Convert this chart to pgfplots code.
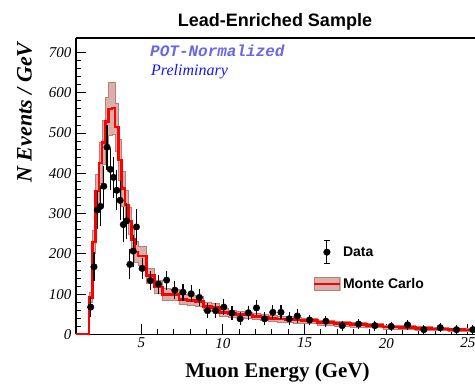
\documentclass[border=0pt]{standalone}
\usepackage{fontspec}
\setmainfont{Liberation Serif}
\newfontfamily\sansf{Liberation Sans}
\newfontfamily\monof{Liberation Mono}
\usepackage{pgfplots}
\pgfplotsset{compat=1.18}
\usepackage{pgfplotstable}
\usepgfplotslibrary{fillbetween}
\definecolor{bandfill}{RGB}{218,176,172}
\definecolor{bandedge}{RGB}{190,124,120}
\definecolor{potblue}{RGB}{104,104,228}
\definecolor{prelblue}{RGB}{20,20,250}

% Monte Carlo: left bin edge, value, band upper, band lower (last row = end of last bin)
\pgfplotstableread{
x v hi lo
1.0 0 0 0
1.8 92 105 79
2.0 230 258 202
2.2 356 398 314
2.4 426 476 376
2.6 477 532 422
2.8 528 589 467
3.0 560 625 495
3.2 562 627 497
3.4 515 575 455
3.6 433 484 382
3.8 362 405 319
4.0 321 359 283
4.2 282 316 248
4.4 236 265 207
4.6 205 231 179
4.8 195 219 171
5.3 146 165 127
5.8 118 134 102
6.3 100 114 86
6.8 99 113 85
7.3 87 100 74
7.8 85 97 73
8.3 82 94 70
8.8 70 81 59
9.3 67 77 57
9.8 55 64 46
10.3 52 61 43
10.8 50 58 42
11.3 48 56 40
11.8 45 53 37
12.3 43 51 35
12.8 40 47 33
13.3 38 45 31
13.8 37 44 30
14.3 36 43 29
14.8 34 41 27
15.8 30 36 24
16.8 27 33 21
17.8 25 31 19
18.8 22 27 17
19.8 19 24 14
20.8 18 23 13
21.8 15 20 10
22.8 14 19 10
23.8 12 16 8
24.8 11 15 7
25.8 11 15 7
}\mc

% Data: bin centre, value, error
\pgfplotstableread{
x y e
1.9 68 18
2.1 168 29
2.3 309 39
2.5 318 40
2.7 368 43
2.9 465 48
3.1 410 45
3.3 390 44
3.5 358 42
3.7 333 41
3.9 273 37
4.1 282 38
4.3 174 30
4.5 207 32
4.7 267 37
5.05 164 18
5.55 134 16
6.05 125 16
6.55 135 16
7.05 110 15
7.55 105 14
8.05 101 14
8.55 92 14
9.05 59 11
9.55 59 11
10.05 68 12
10.55 53 10
11.05 39 9
11.55 54 10
12.05 66 11
12.55 39 9
13.05 55 10
13.55 55 10
14.05 39 9
14.55 46 10
15.3 36 6
16.3 33 6
17.3 22 5
18.3 26 5
19.3 22 5
20.3 20 4
21.3 24 5
22.3 12 4
23.3 17 4
24.3 12 4
25.3 12 4
}\data

\begin{document}
\begin{tikzpicture}
\begin{axis}[
  at={(76pt,50.5pt)}, anchor=south west,
  scale only axis, width=399pt, height=296.5pt,
  xmin=1, xmax=25.43, ymin=0, ymax=736,
  axis x line*=box, axis y line*=left,
  xtick={5,10,15,20,25}, ytick={0,100,200,300,400,500,600,700},
  minor x tick num=4, minor y tick num=4,
  tick align=inside, xtick pos=left, ytick pos=left,
  major tick length=10pt, minor tick length=5pt,
  axis line style={line width=1.2pt, black},
  every tick/.style={black, line width=1pt},
  /pgf/number format/assume math mode=true,
  tick label style={font=\fontsize{15}{18}\selectfont\itshape},
  yticklabel style={xshift=-1pt},
  legend style={at={(0.593,0.319)}, anchor=north west, draw=none, fill=none,
    inner sep=0pt, row sep=12pt,
    font=\sansf\bfseries\fontsize{14}{16}\selectfont,
    nodes={inner sep=2pt}},
  legend cell align=left,
]
\addplot[name path=up, draw=none, const plot mark left, forget plot] table[x=x,y=hi]{\mc};
\addplot[name path=lo, draw=none, const plot mark left, forget plot] table[x=x,y=lo]{\mc};
\addplot[bandfill, forget plot] fill between[of=up and lo];
\addplot[draw=bandedge, line width=0.6pt, const plot mark left, forget plot] table[x=x,y=hi]{\mc};
\addplot[draw=bandedge, line width=0.6pt, const plot mark left, forget plot] table[x=x,y=lo]{\mc};
\addplot[red, line width=2.6pt, const plot mark left, forget plot] table[x=x,y=v]{\mc};
\addplot[only marks, mark=*, mark size=3.3pt, black, forget plot,
  error bars/.cd, y dir=both, y explicit,
  error bar style={line width=1.1pt, black},
  error mark options={black, line width=1.1pt, mark size=3pt}]
  table[x=x,y=y,y error=e]{\data};
\addlegendimage{legend image code/.code={
  \draw[black, line width=1.1pt] (12.8pt,-11.5pt) -- (12.8pt,11.5pt);
  \draw[black, line width=1.1pt] (9.8pt,11.5pt) -- (15.8pt,11.5pt);
  \draw[black, line width=1.1pt] (9.8pt,-11.5pt) -- (15.8pt,-11.5pt);
  \fill[black] (12.8pt,0pt) circle (3.3pt);}}
\addlegendentry{Data}
\addlegendimage{legend image code/.code={
  \fill[bandfill] (0pt,-6.5pt) rectangle (25.6pt,6.5pt);
  \draw[bandedge, line width=0.6pt] (0pt,-6.5pt) rectangle (25.6pt,6.5pt);
  \draw[red, line width=2.6pt] (0pt,0pt) -- (25.6pt,0pt);}}
\addlegendentry{Monte Carlo}
\end{axis}
\node[anchor=base, font=\sansf\bfseries\fontsize{18}{21}\selectfont] at (275pt,358pt) {Lead-Enriched Sample};
\node[rotate=90, anchor=base, font=\bfseries\itshape\fontsize{22}{26}\selectfont] at (31.5pt,272.5pt) {N Events / GeV};
\node[anchor=base, font=\bfseries\fontsize{21}{25}\selectfont] at (277.5pt,7pt) {Muon Energy (GeV)};
\node[anchor=base west, inner sep=0pt, font=\monof\bfseries\itshape\fontsize{16}{19}\selectfont, text=potblue] at (150pt,328pt) {POT-Normalized};
\node[anchor=base west, inner sep=0pt, font=\itshape\fontsize{16}{19}\selectfont, text=prelblue] at (151pt,309pt) {Preliminary};
\pgfresetboundingbox
\path[use as bounding box] (0pt,0pt) rectangle (475pt,385pt);
\end{tikzpicture}
\end{document}
